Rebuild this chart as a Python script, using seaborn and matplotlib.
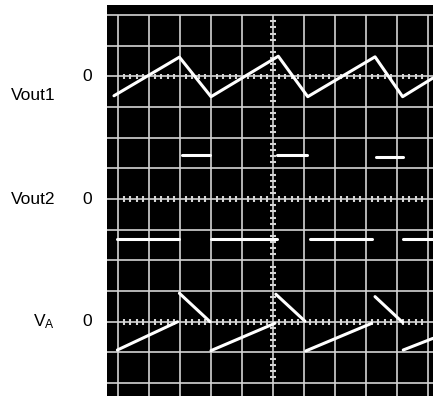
import numpy as np
import pandas as pd
import matplotlib
matplotlib.use("Agg")
import matplotlib.pyplot as plt
import seaborn as sns

# traces in scope divisions (x: 0..10, y: offset from each channel's zero line)
vout1_t = [-0.13, 1.98, 3.0, 5.17, 6.12, 8.29, 9.18, 10.16]
vout1_v = [-0.63, 0.63, -0.66, 0.66, -0.66, 0.64, -0.66, -0.05]

vout2_t0 = [-0.04, 2.05, 3.0, 5.14, 6.19, 8.32, 9.2]
vout2_t1 = [1.97, 2.97, 5.14, 6.09, 8.2, 9.18, 10.16]
vout2_v = [-1.29, 1.43, -1.29, 1.43, -1.29, 1.38, -1.29]

va_t0 = [-0.02, 1.98, 3.0, 5.09, 6.06, 8.29, 9.2]
va_v0 = [-0.92, 0.93, -0.94, 0.90, -0.95, 0.82, -0.92]
va_t1 = [1.92, 2.97, 5.06, 6.03, 8.18, 9.18, 10.16]
va_v1 = [0.0, 0.0, -0.05, 0.02, -0.05, -0.02, -0.54]

channels = ["Vout1", "Vout2", r"V$_\mathrm{A}$"]
zero_levels = [10, 6, 2]

sns.set_style("white")
plt.rcParams["font.family"] = ["Liberation Sans", "DejaVu Sans"]
plt.rcParams["text.color"] = "black"
plt.rcParams["mathtext.fontset"] = "custom"
plt.rcParams["mathtext.rm"] = "Liberation Sans"
plt.rcParams["mathtext.it"] = "Liberation Sans"

# build one long table of line segments
rows = []
for i, (t, v) in enumerate(zip(vout1_t, vout1_v)):
    rows.append(("v1", t, zero_levels[0] + v, i))
for k in range(len(vout2_v)):
    rows.append((f"v2_{k}", vout2_t0[k], zero_levels[1] + vout2_v[k], 0))
    rows.append((f"v2_{k}", vout2_t1[k], zero_levels[1] + vout2_v[k], 1))
for k in range(len(va_t0)):
    rows.append((f"va_{k}", va_t0[k], zero_levels[2] + va_v0[k], 0))
    rows.append((f"va_{k}", va_t1[k], zero_levels[2] + va_v1[k], 1))
df = pd.DataFrame(rows, columns=["seg", "t", "y", "order"])

fig = plt.figure(figsize=(4.33, 3.96), dpi=100)
ax = fig.add_axes([107 / 433, 0, 1 - 107 / 433, 391 / 396])
ax.set_facecolor("black")
x_lo, x_hi = -0.355, 10.16
y_lo, y_hi = -0.42, 12.33
ax.set_xlim(x_lo, x_hi)
ax.set_ylim(y_lo, y_hi)
for s in ax.spines.values():
    s.set_visible(False)
ax.set_xticks([])
ax.set_yticks([])

grid_c = "#d4d4d4"
ax.hlines(np.arange(0, 13), x_lo, x_hi, color=grid_c, lw=1.2, zorder=1)
ax.vlines(np.arange(0, 11), y_lo, 12, color=grid_c, lw=1.2, zorder=1)

# minor ticks on the centre lines
tx = np.array([x for x in np.arange(0, 10.01, 0.2) if abs(x - round(x)) > 0.01])
for z in zero_levels:
    ax.vlines(tx, z - 0.09, z + 0.09, color=grid_c, lw=1.5, zorder=1)
ty = np.array([y for y in np.arange(0, 12.01, 0.2) if abs(y - round(y)) > 0.01])
ax.hlines(ty, 5 - 0.09, 5 + 0.09, color=grid_c, lw=1.5, zorder=1)

sns.lineplot(data=df, x="t", y="y", units="seg", estimator=None, sort=False,
             color="white", lw=2.2, legend=False, ax=ax, zorder=3)
ax.set_xlabel("")
ax.set_ylabel("")

label_y = [zero_levels[0] - 0.62, zero_levels[1], zero_levels[2]]
for name, z, ly in zip(channels, zero_levels, label_y):
    ax.text(-1.0, z, "0", ha="center", va="center", fontsize=12.5,
            color="black", clip_on=False)
    ax.text(-2.03, ly, name, ha="right", va="center", fontsize=12.5,
            color="black", clip_on=False)

fig.savefig("out.png", dpi=100)
